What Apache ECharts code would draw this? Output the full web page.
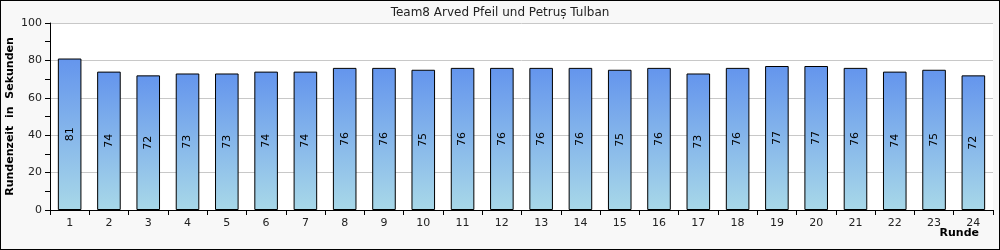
<!DOCTYPE html>
<html><head><meta charset="utf-8">
<script src="https://cdn.jsdelivr.net/npm/echarts@6/dist/echarts.min.js"></script>
<style>html,body{margin:0;padding:0;background:#f8f8f8}#c{width:998px;height:248px;border:1px solid #000}</style>
</head><body><div id="c"></div>
<script>
const titleText = 'Team8 Arved Pfeil und Petruș Tulban';
const categories = ['1','2','3','4','5','6','7','8','9','10','11','12','13','14','15','16','17','18','19','20','21','22','23','24'];
const lapTimes = [81,74,72,73,73,74,74,76,76,75,76,76,76,76,75,76,73,76,77,77,76,74,75,72];
const yTicks = [0,20,40,60,80,100];
const yName = 'Rundenzeit  in  Sekunden';
const xName = 'Runde';

const chart = echarts.init(document.getElementById('c'));
const font = 'DejaVu Sans';
chart.setOption({
  backgroundColor: '#f8f8f8',
  animation: false,
  title: { text: titleText, left: 'center', top: 1, textStyle: { fontFamily: font, fontSize: 12, fontWeight: 'normal', color: '#222' } },
  grid: { left: 49, right: 6, top: 22, bottom: 39, backgroundColor: '#fff', show: true, borderWidth: 0, containLabel: false, outerBoundsMode: 'none' },
  xAxis: {
    type: 'category', data: categories,
    name: xName, nameLocation: 'end', nameGap: -14, nameMoveOverlap: false,
    nameTextStyle: { fontFamily: font, fontSize: 11, fontWeight: 'bold', color: '#000', align: 'right', verticalAlign: 'top', padding: [18, 0, 0, 0] },
    axisLine: { lineStyle: { color: '#000' } },
    axisTick: { show: true, alignWithLabel: false, length: 5, lineStyle: { color: '#000' } },
    axisLabel: { fontFamily: font, fontSize: 11, color: '#222', margin: 8 }
  },
  yAxis: {
    type: 'value', min: 0, max: 100, interval: 20,
    name: yName, nameLocation: 'middle', nameGap: 34, nameMoveOverlap: false,
    nameTextStyle: { fontFamily: font, fontSize: 11, fontWeight: 'bold', color: '#000' },
    axisLine: { show: true, lineStyle: { color: '#000' } },
    axisTick: { show: true, length: 5, lineStyle: { color: '#000' } },
    minorTick: { show: true, splitNumber: 2, length: 5, lineStyle: { color: '#000' } },
    splitLine: { show: true, lineStyle: { color: '#c8c8c8' } },
    axisLabel: { fontFamily: font, fontSize: 11, color: '#222', margin: 8, formatter: v => yTicks.includes(v) ? String(v) : '' }
  },
  series: [{
    type: 'bar', data: lapTimes, barWidth: '60%',
    itemStyle: {
      borderColor: '#000', borderWidth: 1,
      color: new echarts.graphic.LinearGradient(0, 0, 0, 1, [
        { offset: 0, color: '#6495ed' }, { offset: 1, color: '#a8d8e8' }
      ])
    },
    label: { show: true, position: 'inside', rotate: 90, fontFamily: font, fontSize: 11, color: '#000' }
  }]
});
</script></body></html>
